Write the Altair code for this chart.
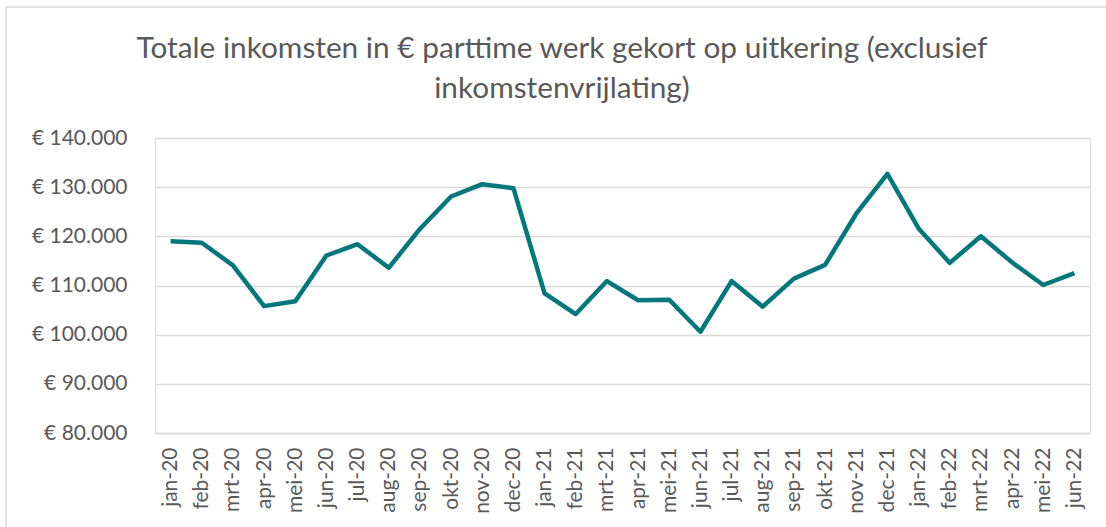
import altair as alt
import pandas as pd

months = ["jan-20", "feb-20", "mrt-20", "apr-20", "mei-20", "jun-20", "jul-20", "aug-20",
          "sep-20", "okt-20", "nov-20", "dec-20", "jan-21", "feb-21", "mrt-21", "apr-21",
          "mei-21", "jun-21", "jul-21", "aug-21", "sep-21", "okt-21", "nov-21", "dec-21",
          "jan-22", "feb-22", "mrt-22", "apr-22", "mei-22", "jun-22"]
values = [119000, 118700, 114100, 105800, 106800, 116100, 118400, 113600,
          121500, 128100, 130600, 129800, 108400, 104200, 110900, 107000,
          107100, 100600, 110900, 105700, 111400, 114200, 124600, 132700,
          121600, 114600, 120000, 114700, 110100, 112500]
title_lines = ["Totale inkomsten in € parttime werk gekort op uitkering (exclusief",
               "inkomstenvrijlating)"]

df = pd.DataFrame({"maand": months, "waarde": values})

FONT = "Lato"
TXT = "#595959"
GRID = "#D9D9D9"

line = alt.Chart(df).mark_line(color="#04777D", strokeWidth=4.5, strokeJoin="round").encode(
    x=alt.X("maand:N", sort=months, title=None,
            axis=alt.Axis(labelAngle=-90, labelPadding=14, ticks=False,
                          domainColor=GRID, domainWidth=1.5,
                          labelFontSize=21, labelColor=TXT, labelFont=FONT)),
    y=alt.Y("waarde:Q", title=None,
            scale=alt.Scale(domain=[80000, 140000], nice=False, zero=False),
            axis=alt.Axis(values=[80000, 90000, 100000, 110000, 120000, 130000, 140000],
                          labelExpr='"€ " + replace(format(datum.value, ",.0f"), ",", ".")',
                          domain=False, ticks=False, gridColor=GRID, gridWidth=1.5,
                          labelPadding=28, labelFontSize=21, labelColor=TXT, labelFont=FONT)),
)

border_data = alt.Data(values=[{"k": 1}])
left_border = alt.Chart(border_data).mark_rule(color=GRID, strokeWidth=1.5).encode(
    x=alt.value(-149), y=alt.value(-131), y2=alt.value(400))
top_border = alt.Chart(border_data).mark_rule(color=GRID, strokeWidth=1.5).encode(
    x=alt.value(-149), x2=alt.value(960), y=alt.value(-131))

title_parts = []
for i, t in enumerate(title_lines):
    title_parts.append(
        alt.Chart(alt.Data(values=[{"t": t}])).mark_text(
            font=FONT, fontSize=29.8, color=TXT, align="center", baseline="alphabetic"
        ).encode(text="t:N", x=alt.value(407), y=alt.value(-80 + 40 * i))
    )

chart = alt.layer(left_border, top_border, *title_parts, line).properties(
    width=935, height=295,
    autosize=alt.AutoSizeParams(type="none"),
    padding={"left": 155, "top": 138, "right": 16, "bottom": 94},
).configure_view(stroke=None).configure(background="white")

chart.save("out.html", embed_options={"renderer": "svg", "actions": False})
